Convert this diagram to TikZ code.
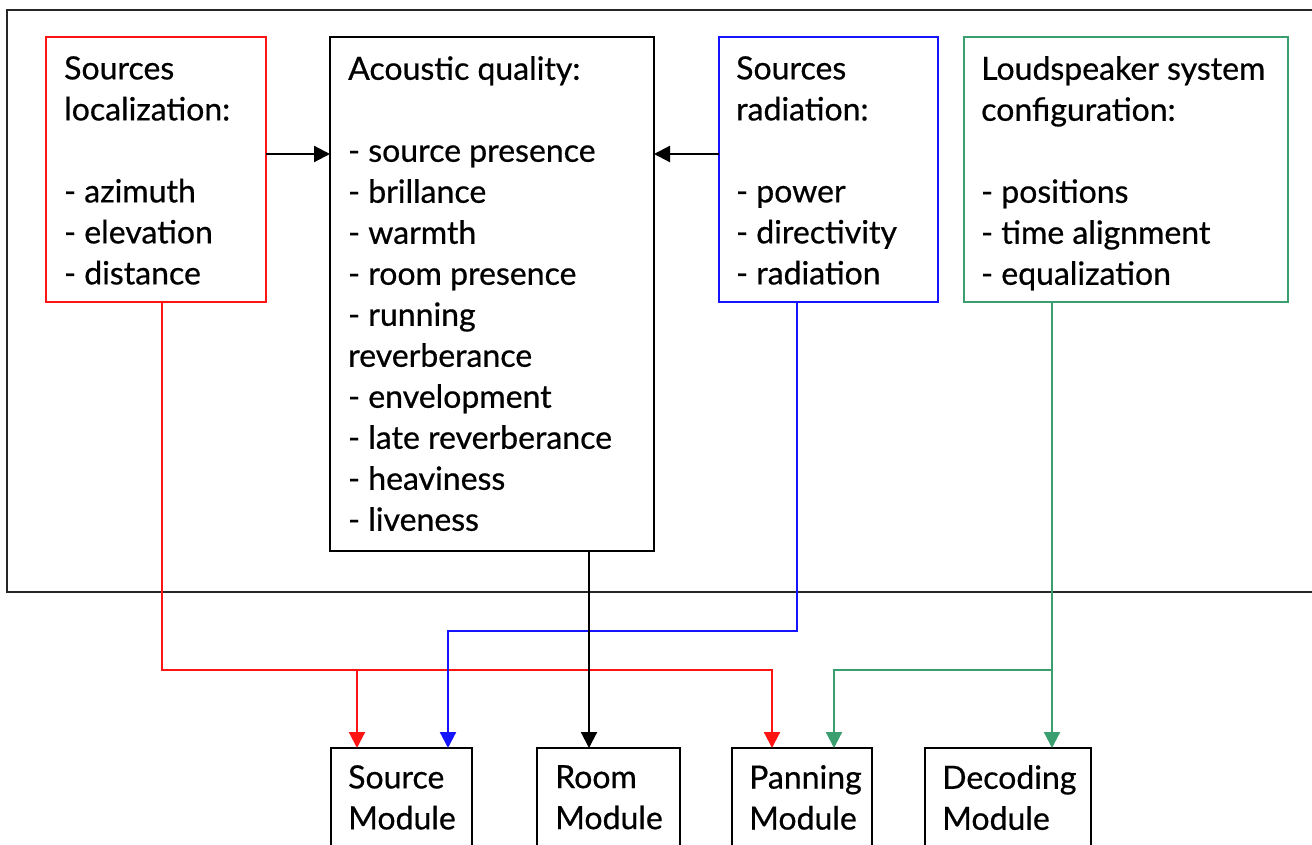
\documentclass[tikz,border=0pt]{standalone}
\usepackage{fontspec}
\setmainfont{Lato}[FakeBold=0.6]
\usetikzlibrary{arrows.meta}
\definecolor{myred}{RGB}{255,20,20}
\definecolor{myblue}{RGB}{20,20,255}
\definecolor{mygreen}{RGB}{58,158,110}
\begin{document}
\begin{tikzpicture}[x=1pt,y=-1pt,
  box/.style={draw, line width=2.2pt, rectangle, inner sep=0pt, outer sep=0pt, anchor=north west},
  txt/.style={anchor=north west, align=left, inner sep=0pt, font=\fontsize{32}{41}\selectfont},
  conn/.style={line width=2.2pt, -{Triangle[length=16pt,width=16pt]}},
]
\useasboundingbox (0,0) rectangle (1312,845);
\begin{scope}
\clip (0,0) rectangle (1312,845);
% outer frame
\node[box, line width=2.4pt, draw=black!85, minimum width=1340pt, minimum height=582pt] (outer) at (7,10) {};
% top boxes
\node[box, draw=myred, minimum width=220pt, minimum height=265pt] (loc) at (46,37) {};
\node[box, draw=black, minimum width=324pt, minimum height=514pt] (acq) at (330,37) {};
\node[box, draw=myblue, minimum width=219pt, minimum height=265pt] (rad) at (719,37) {};
\node[box, draw=mygreen, minimum width=324pt, minimum height=265pt] (cfg) at (964,37) {};
% texts
\node[txt] (loct) at (64,56) {Sources\\localization:\\[41pt]- azimuth\\- elevation\\- distance};
\node[txt] (acqt) at (348,56) {Acoustic quality:\\[41pt]- source presence\\- brillance\\- warmth\\- room presence\\- running\\reverberance\\- envelopment\\- late reverberance\\- heaviness\\- liveness};
\node[txt] (radt) at (736,56) {Sources\\radiation:\\[41pt]- power\\- directivity\\- radiation};
\node[txt] (cfgt) at (981,56) {Loudspeaker system\\configuration:\\[41pt]- positions\\- time alignment\\- equalization};
% modules
\node[box, minimum width=141pt, minimum height=140pt] (srcm) at (331,748) {};
\node[box, minimum width=143pt, minimum height=140pt] (roomm) at (537,748) {};
\node[box, minimum width=140pt, minimum height=140pt] (panm) at (732,748) {};
\node[box, minimum width=166pt, minimum height=140pt] (decm) at (925,748) {};
\node[txt] (srct) at (348,765) {Source\\Module};
\node[txt] (roomt) at (555,765) {Room\\Module};
\node[txt] (pant) at (749,765) {Panning\\Module};
\node[txt] (dect) at (942,765) {Decoding\\Module};
% coordinates
\coordinate (ay) at (0,154);
\coordinate (rj) at (162,670);
\coordinate (bj) at (797,631);
\coordinate (gj) at (1052,670);
\coordinate (sA) at ([xshift=26pt]srcm.north west);
\coordinate (sB) at ([xshift=117pt]srcm.north west);
\coordinate (kA) at ([xshift=52pt]roomm.north west);
\coordinate (pA) at ([xshift=40pt]panm.north west);
\coordinate (pB) at ([xshift=102pt]panm.north west);
\coordinate (dA) at ([xshift=127pt]decm.north west);
% horizontal arrows
\draw[conn] (loc.east |- ay) -- (acq.west |- ay);
\draw[conn] (rad.west |- ay) -- (acq.east |- ay);
% red
\draw[conn, myred] (loc.south -| rj) -- (rj) -| (pA);
\draw[conn, myred] (rj -| sA) -- (sA);
% blue
\draw[conn, myblue] (rad.south -| bj) -- (bj) -| (sB);
% black
\draw[conn] (acq.south -| kA) -- (kA);
% green
\draw[conn, mygreen] (cfg.south -| dA) -- (dA);
\draw[conn, mygreen] (gj -| dA) -| (pB);
\end{scope}
\end{tikzpicture}
\end{document}
